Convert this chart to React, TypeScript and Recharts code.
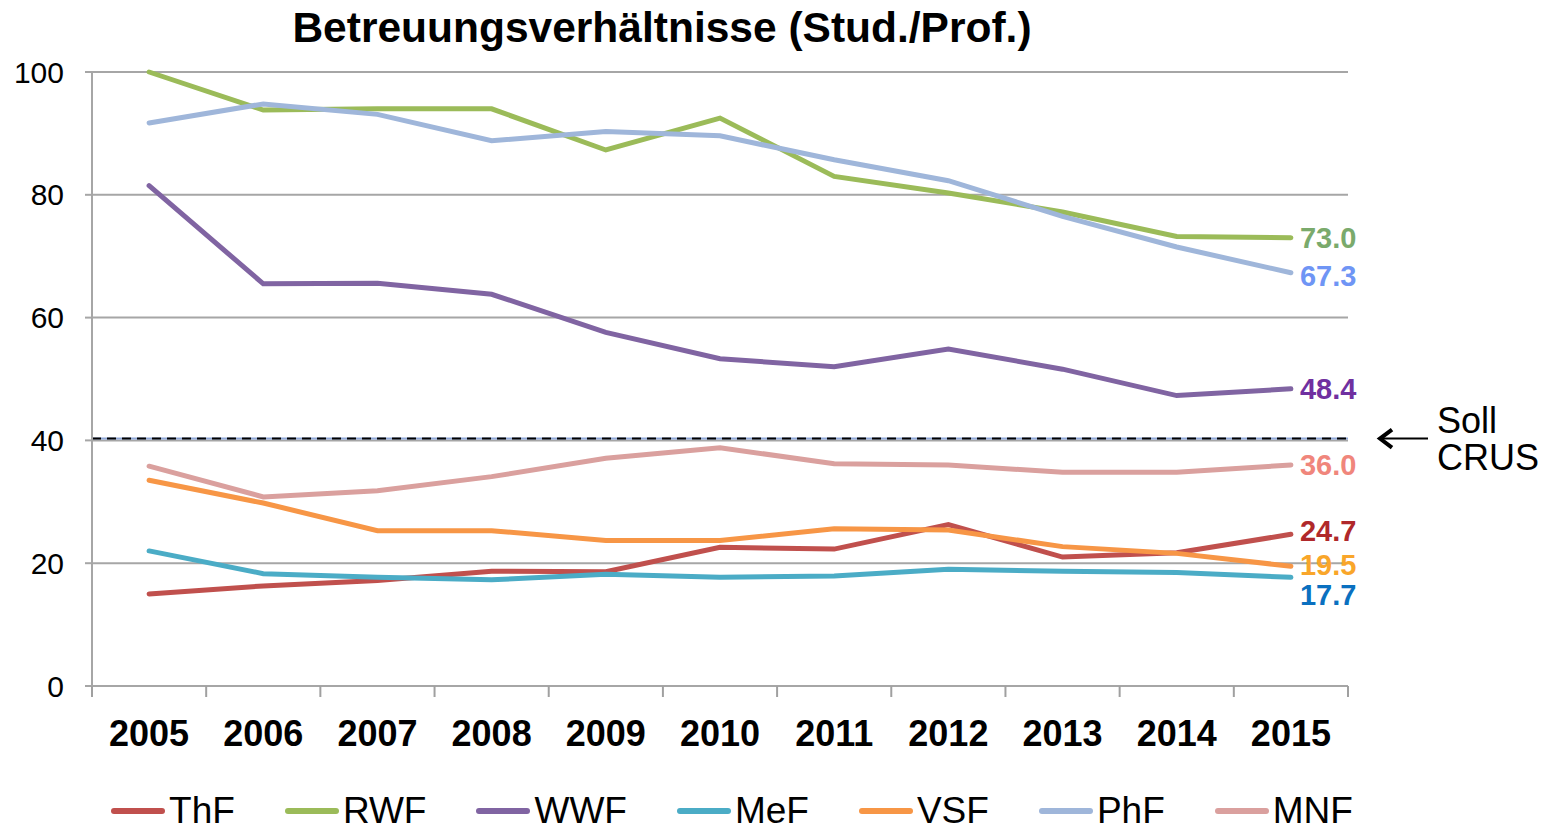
import React from 'react';
import {
   LineChart,
   Line,
   XAxis,
   YAxis,
   CartesianGrid,
   Legend,
   ReferenceLine,
   LabelList
} from 'recharts';

const years = ['2005', '2006', '2007', '2008', '2009', '2010', '2011', '2012', '2013', '2014', '2015'];

const thf = [15.0, 16.3, 17.2, 18.7, 18.6, 22.6, 22.3, 26.3, 21.0, 21.7, 24.7];
const rwf = [100.0, 93.8, 94.0, 94.0, 87.3, 92.5, 83.0, 80.3, 77.2, 73.2, 73.0];
const wwf = [81.5, 65.5, 65.6, 63.8, 57.6, 53.3, 52.0, 54.9, 51.6, 47.3, 48.4];
const mef = [22.0, 18.3, 17.7, 17.3, 18.2, 17.7, 17.9, 19.0, 18.7, 18.5, 17.7];
const vsf = [33.5, 29.8, 25.3, 25.3, 23.7, 23.7, 25.6, 25.4, 22.7, 21.6, 19.5];
const phf = [91.7, 94.8, 93.1, 88.8, 90.3, 89.6, 85.7, 82.3, 76.5, 71.5, 67.3];
const mnf = [35.8, 30.8, 31.8, 34.1, 37.1, 38.8, 36.2, 36.0, 34.8, 34.8, 36.0];

const yTicks = [0, 20, 40, 60, 80, 100];
const sollCrus = 40.3;

const series = [
   { key: 'ThF', values: thf, color: '#c0504d', labelColor: '#b0282a', dy: -3 },
   { key: 'RWF', values: rwf, color: '#9bbb59', labelColor: '#7aaa6c', dy: 0 },
   { key: 'WWF', values: wwf, color: '#8064a2', labelColor: '#7030a0', dy: 0 },
   { key: 'MeF', values: mef, color: '#4bacc6', labelColor: '#0a70c0', dy: 18 },
   { key: 'VSF', values: vsf, color: '#f79646', labelColor: '#f9a62a', dy: -1 },
   { key: 'PhF', values: phf, color: '#9fb6da', labelColor: '#6f95f5', dy: 3 },
   { key: 'MNF', values: mnf, color: '#daa09e', labelColor: '#f0867c', dy: 0 }
];

const data = years.map((year, i) => {
   const row: Record<string, string | number> = { year };
   series.forEach(s => {
      row[s.key] = s.values[i];
   });
   return row;
});

const FONT = '"Liberation Sans", Arial, sans-serif';
const WIDTH = 1549;
const HEIGHT = 831;
const Y_AXIS_W = 60;
const margin = { top: 72, right: 201, left: 32, bottom: 0 };
const bandW = (WIDTH - margin.left - Y_AXIS_W - margin.right) / years.length;

const YearTick = (props: any) => {
   const { x, y, payload, index } = props;
   const last = index === years.length - 1;
   return (
      <g>
         <line x1={x - bandW / 2} x2={x - bandW / 2} y1={y} y2={y + 11} stroke="#a0a0a0" strokeWidth={2} />
         {last && (
            <line x1={x + bandW / 2} x2={x + bandW / 2} y1={y} y2={y + 11} stroke="#a0a0a0" strokeWidth={2} />
         )}
         <text
            x={x}
            y={y + 47}
            textAnchor="middle"
            dominantBaseline="central"
            fontFamily={FONT}
            fontWeight="bold"
            fontSize={36}
            fill="#000">
            {payload.value}
         </text>
      </g>
   );
};

const endLabel = (color: string, dy: number) => (props: any) => {
   const { x, y, value, index } = props;
   if (index !== years.length - 1) return null;
   return (
      <text
         x={x + 9}
         y={y + dy}
         dominantBaseline="central"
         fontFamily={FONT}
         fontWeight="bold"
         fontSize={29}
         fill={color}>
         {Number(value).toFixed(1)}
      </text>
   );
};

const SollLabel = (props: any) => {
   const { viewBox } = props;
   if (!viewBox) return null;
   const x0 = viewBox.x + viewBox.width;
   const y = viewBox.y;
   return (
      <g>
         <line x1={x0 + 32} x2={x0 + 80} y1={y} y2={y} stroke="#000" strokeWidth={2} />
         <polyline
            points={`${x0 + 44},${y - 9} ${x0 + 32},${y} ${x0 + 44},${y + 9}`}
            fill="none"
            stroke="#000"
            strokeWidth={4}
         />
         <text x={x0 + 89} y={y - 18} dominantBaseline="central" fontFamily={FONT} fontSize={36} fill="#000">
            Soll
         </text>
         <text x={x0 + 89} y={y + 19} dominantBaseline="central" fontFamily={FONT} fontSize={36} fill="#000">
            CRUS
         </text>
      </g>
   );
};

const LegendContent = () => (
   <div
      style={{
         height: 40,
         display: 'flex',
         justifyContent: 'center',
         alignItems: 'center',
         gap: 50,
         fontFamily: FONT,
         fontSize: 37,
         paddingLeft: 84
      }}>
      {series.map(s => (
         <div key={s.key} style={{ display: 'flex', alignItems: 'center' }}>
            <svg width={54} height={10} style={{ marginRight: 4 }}>
               <line x1={3} x2={51} y1={5} y2={5} stroke={s.color} strokeWidth={6} strokeLinecap="round" />
            </svg>
            <span style={{ lineHeight: '40px' }}>{s.key}</span>
         </div>
      ))}
   </div>
);

const App = () => (
   <div style={{ position: 'absolute', left: 0, top: 0, width: WIDTH, height: HEIGHT, background: '#fff' }}>
      <div
         style={{
            position: 'absolute',
            left: 0,
            top: 6,
            width: 1324,
            textAlign: 'center',
            fontFamily: FONT,
            fontWeight: 'bold',
            fontSize: 42.5,
            lineHeight: '44px',
            zIndex: 2
         }}>
         Betreuungsverhältnisse (Stud./Prof.)
      </div>
      <LineChart width={WIDTH} height={HEIGHT} data={data} margin={margin}>
         <CartesianGrid vertical={false} stroke="#a6a6a6" strokeWidth={2} />
         <XAxis
            dataKey="year"
            scale="band"
            height={105}
            stroke="#a6a6a6"
            strokeWidth={2}
            tickLine={false}
            tickSize={0}
            tickMargin={0}
            interval={0}
            tick={<YearTick />}
         />
         <YAxis
            width={Y_AXIS_W}
            domain={[0, 100]}
            ticks={yTicks}
            stroke="#a6a6a6"
            strokeWidth={2}
            tickSize={7}
            tickMargin={21}
            tick={{ fill: '#000', fontSize: 30, fontFamily: FONT }}
         />
         <ReferenceLine y={sollCrus} stroke="#8fa8d8" strokeWidth={2} />
         <ReferenceLine
            y={sollCrus}
            stroke="#000"
            strokeWidth={2}
            strokeDasharray="9 6"
            label={<SollLabel />}
         />
         <Legend verticalAlign="bottom" content={<LegendContent />} />
         {series.map(s => (
            <Line
               key={s.key}
               type="linear"
               dataKey={s.key}
               stroke={s.color}
               strokeWidth={5}
               strokeLinecap="round"
               dot={false}
               isAnimationActive={false}>
               <LabelList dataKey={s.key} content={endLabel(s.labelColor, s.dy)} />
            </Line>
         ))}
      </LineChart>
   </div>
);

export default App;
